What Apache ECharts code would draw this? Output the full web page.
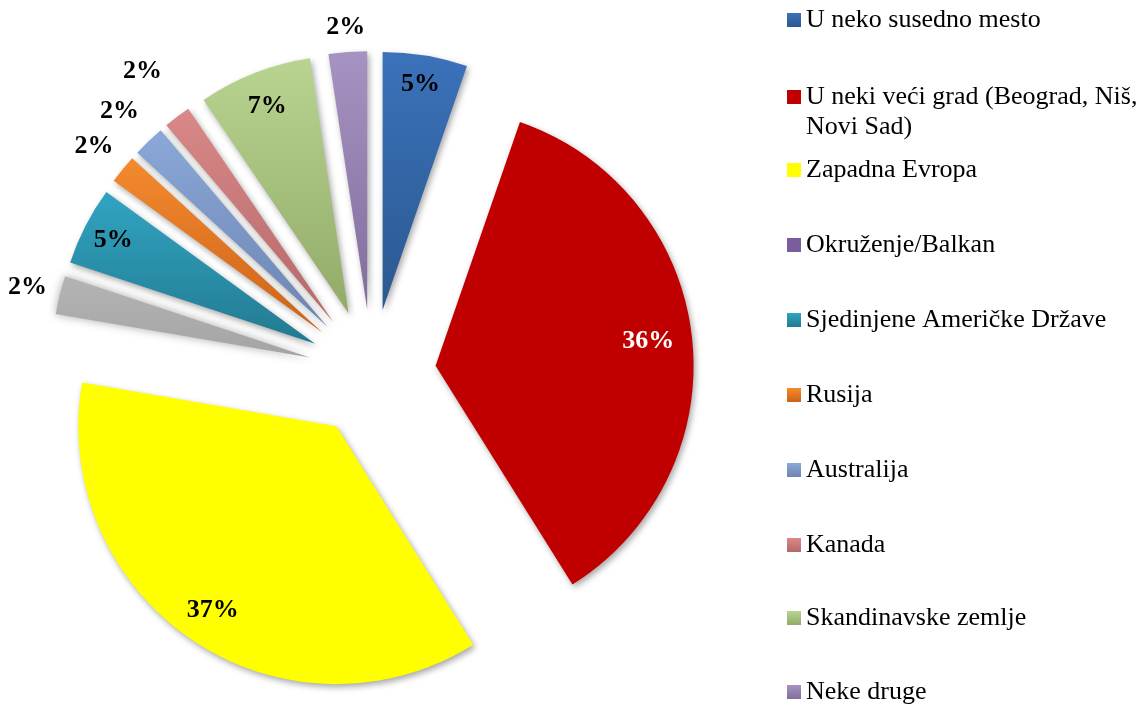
<!DOCTYPE html>
<html>
<head>
    <meta charset="UTF-8">
    <script src="https://cdn.jsdelivr.net/npm/echarts@6/dist/echarts.min.js"></script>
    <title>pie</title>
    <style>
        html, body { margin: 0; padding: 0; background: #fff; }
        #main { width: 1146px; height: 705px; }
    </style>
</head>
<body>
<div id="main"></div>
<script type="text/javascript">
    // podaci
    var categories = [
        'U neko susedno mesto',
        'U neki veći grad (Beograd, Niš, Novi Sad)',
        'Zapadna Evropa',
        'Okruženje/Balkan',
        'Sjedinjene Američke Države',
        'Rusija',
        'Australija',
        'Kanada',
        'Skandinavske zemlje',
        'Neke druge'
    ];
    var values = [5.3, 35.8, 36.6, 2.4, 4.9, 1.8, 2.0, 1.7, 7.1, 2.4];

    // boje (gore / dole za gradijent)
    var colorTop = ['#3b72ba', '#c00000', '#ffff00', '#b4b4b4', '#31a4c2', '#f48a2e', '#8ba8d8', '#da8888', '#b8d490', '#a693c2'];
    var colorBottom = ['#2b5890', '#c00000', '#ffff00', '#a4a4a4', '#227a90', '#cc6218', '#6c84b2', '#b46868', '#92aa68', '#826e9c'];
    var legendColorBalkan = '#7b5c9f';

    // udaljenost natpisa od vrha isecka
    var labelDist = [226, 211, 219, 288, 224, 292, 297, 312, 220, 280];

    var font = "'Liberation Serif', 'Times New Roman', serif";
    var center = [372, 373];
    var R = 258;
    var offset = 64;

    function grad(i) {
        return {
            type: 'linear', x: 0, y: 0, x2: 0, y2: 1,
            colorStops: [{offset: 0, color: colorTop[i]}, {offset: 1, color: colorBottom[i]}]
        };
    }

    var mainData = categories.map(function (name, i) {
        var item = {
            name: name,
            value: values[i],
            selected: true,
            itemStyle: {
                color: grad(i),
                shadowBlur: 6,
                shadowOffsetX: 2,
                shadowOffsetY: 3,
                shadowColor: 'rgba(0,0,0,0.35)'
            }
        };
        if (i === 3) {
            item.itemStyle.shadowBlur = 10;
            item.itemStyle.shadowOffsetX = 0;
            item.itemStyle.shadowOffsetY = 0;
            item.itemStyle.shadowColor = '#aaaaaa';
        }
        return item;
    });

    // providni prsten samo za natpis isecka k
    function labelSeries(k) {
        return {
            type: 'pie',
            center: center,
            radius: [labelDist[k] - 30, labelDist[k] + 30],
            silent: true,
            selectedMode: 'multiple',
            selectedOffset: offset,
            avoidLabelOverlap: false,
            labelLayout: {hideOverlap: false},
            animation: false,
            itemStyle: {color: 'rgba(0,0,0,0)'},
            label: {
                position: 'inside',
                rotate: 0,
                fontFamily: font,
                fontWeight: 'bold',
                fontSize: 26,
                formatter: function (p) { return Math.round(p.percent) + '%'; }
            },
            labelLine: {show: false},
            emphasis: {disabled: true},
            data: categories.map(function (name, i) {
                return {
                    name: name,
                    value: values[i],
                    selected: true,
                    label: {show: i === k, color: i === 1 ? '#ffffff' : '#000000'}
                };
            })
        };
    }

    var legendTops = [5, 52, 155, 230, 305, 380, 455, 530, 603, 677];
    var legends = categories.map(function (name, i) {
        var d = name;
        if (i === 3) d = {name: name, itemStyle: {color: legendColorBalkan}};
        var lg = {
            data: [d],
            orient: 'vertical',
            left: 787,
            top: legendTops[i],
            padding: 0,
            icon: 'rect',
            itemWidth: 14,
            itemHeight: 14,
            selectedMode: false,
            textStyle: {fontFamily: font, fontSize: 26, color: '#000', lineHeight: 30}
        };
        if (i === 1) {
            lg.formatter = function () { return '\nU neki veći grad (Beograd, Niš,\nNovi Sad)'; };
        }
        return lg;
    });

    var series = [{
        type: 'pie',
        center: center,
        radius: [0, R],
        startAngle: 90,
        clockwise: true,
        selectedMode: 'multiple',
        selectedOffset: offset,
        avoidLabelOverlap: false,
        label: {show: false},
        labelLine: {show: false},
        emphasis: {disabled: true},
        data: mainData
    }];
    categories.forEach(function (n, k) { series.push(labelSeries(k)); });

    var myChart = echarts.init(document.getElementById('main'));
    myChart.setOption({
        backgroundColor: '#ffffff',
        animation: false,
        legend: legends,
        series: series
    });
</script>
</body>
</html>
